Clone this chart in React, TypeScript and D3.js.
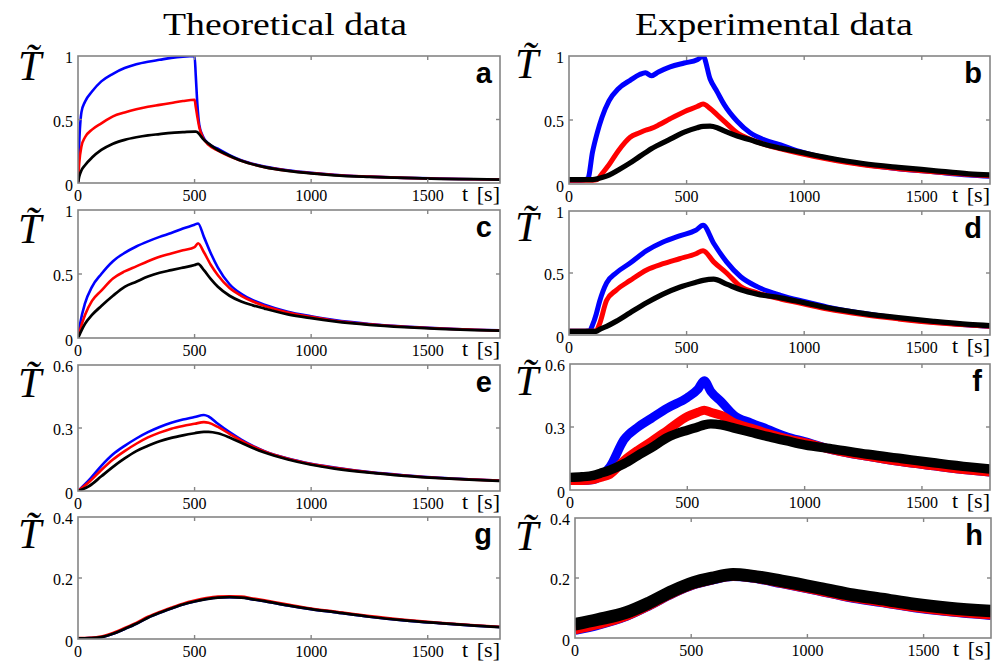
import React from 'react';
import * as d3 from 'd3';

// ---------- tick labels ----------
const xTicks = [0, 500, 1000, 1500];
const yTicks1 = [0, 0.5, 1];
const yTicks06 = [0, 0.3, 0.6];
const yTicks04 = [0, 0.2, 0.4];
const columnTitles = ['Theoretical data', 'Experimental data'];

// ---------- panel a (theoretical) ----------
const aT = [0, 5, 15, 30, 60, 100, 150, 200, 250, 300, 350, 400, 450, 500, 505, 512, 520, 535, 560, 600, 650, 700, 800, 900, 1000, 1100, 1250, 1400, 1550, 1700, 1810];
const aBlue = [0, 0.3, 0.56, 0.64, 0.72, 0.8, 0.86, 0.905, 0.935, 0.955, 0.97, 0.985, 0.995, 1.0, 0.85, 0.62, 0.46, 0.37, 0.31, 0.27, 0.22, 0.18, 0.13, 0.1, 0.08, 0.065, 0.05, 0.04, 0.035, 0.03, 0.028];
const aRed = [0, 0.15, 0.29, 0.36, 0.42, 0.47, 0.525, 0.555, 0.58, 0.6, 0.615, 0.63, 0.645, 0.655, 0.6, 0.52, 0.44, 0.36, 0.3, 0.255, 0.21, 0.175, 0.125, 0.097, 0.078, 0.063, 0.05, 0.04, 0.034, 0.03, 0.027];
const aBlack = [0, 0.05, 0.1, 0.14, 0.2, 0.26, 0.31, 0.34, 0.36, 0.375, 0.385, 0.395, 0.4, 0.405, 0.405, 0.4, 0.385, 0.35, 0.31, 0.26, 0.215, 0.175, 0.125, 0.095, 0.075, 0.06, 0.048, 0.04, 0.033, 0.03, 0.027];

// ---------- panel c (theoretical) ----------
const cT = [0, 10, 30, 60, 100, 150, 200, 250, 300, 350, 400, 450, 500, 515, 540, 570, 600, 650, 700, 750, 800, 900, 1000, 1100, 1250, 1400, 1550, 1700, 1810];
const cBlue = [0, 0.12, 0.27, 0.4, 0.5, 0.6, 0.665, 0.715, 0.755, 0.79, 0.82, 0.855, 0.885, 0.895, 0.79, 0.66, 0.55, 0.42, 0.345, 0.295, 0.26, 0.205, 0.17, 0.14, 0.11, 0.09, 0.075, 0.065, 0.06];
const cRed = [0, 0.07, 0.18, 0.29, 0.37, 0.465, 0.52, 0.56, 0.6, 0.635, 0.66, 0.685, 0.71, 0.74, 0.67, 0.57, 0.49, 0.39, 0.33, 0.285, 0.25, 0.2, 0.165, 0.135, 0.107, 0.088, 0.074, 0.064, 0.058];
const cBlack = [0, 0.04, 0.11, 0.18, 0.25, 0.33, 0.4, 0.44, 0.48, 0.51, 0.53, 0.55, 0.57, 0.58, 0.53, 0.46, 0.4, 0.33, 0.285, 0.255, 0.23, 0.185, 0.155, 0.13, 0.103, 0.085, 0.072, 0.062, 0.057];

// ---------- panel e (theoretical) ----------
const eT = [0, 50, 100, 150, 200, 250, 300, 350, 400, 450, 500, 540, 560, 600, 650, 700, 750, 800, 900, 1000, 1100, 1250, 1400, 1550, 1700, 1810];
const eBlue = [0, 0.055, 0.12, 0.175, 0.215, 0.25, 0.28, 0.305, 0.325, 0.34, 0.352, 0.362, 0.355, 0.32, 0.28, 0.245, 0.215, 0.19, 0.155, 0.13, 0.112, 0.09, 0.075, 0.063, 0.055, 0.05];
const eRed = [0, 0.045, 0.1, 0.15, 0.19, 0.225, 0.255, 0.278, 0.297, 0.31, 0.32, 0.328, 0.325, 0.305, 0.272, 0.24, 0.212, 0.188, 0.153, 0.128, 0.11, 0.089, 0.074, 0.062, 0.054, 0.049];
const eBlack = [0, 0.025, 0.07, 0.115, 0.155, 0.19, 0.215, 0.237, 0.253, 0.265, 0.275, 0.282, 0.282, 0.275, 0.255, 0.23, 0.205, 0.183, 0.15, 0.125, 0.107, 0.087, 0.072, 0.061, 0.053, 0.048];

// ---------- panel g (theoretical) ----------
const gT = [0, 50, 100, 150, 200, 250, 300, 350, 400, 450, 500, 550, 600, 650, 700, 750, 800, 900, 1000, 1100, 1250, 1400, 1550, 1700, 1810];
const gBlue = [0.002, 0.003, 0.006, 0.017, 0.033, 0.05, 0.07, 0.086, 0.1, 0.113, 0.123, 0.131, 0.136, 0.137, 0.136, 0.13, 0.124, 0.11, 0.098, 0.088, 0.073, 0.061, 0.052, 0.044, 0.039];
const gRed = [0.003, 0.004, 0.008, 0.02, 0.036, 0.053, 0.073, 0.089, 0.103, 0.116, 0.126, 0.134, 0.139, 0.14, 0.139, 0.133, 0.127, 0.113, 0.1, 0.09, 0.075, 0.063, 0.053, 0.045, 0.04];
const gBlack = [0.002, 0.003, 0.006, 0.017, 0.033, 0.05, 0.07, 0.086, 0.1, 0.113, 0.123, 0.131, 0.136, 0.137, 0.136, 0.13, 0.124, 0.11, 0.098, 0.088, 0.073, 0.061, 0.052, 0.044, 0.039];

// ---------- panel b (experimental) ----------
const bT = [0, 50, 80, 100, 120, 140, 170, 210, 260, 300, 325, 350, 380, 430, 490, 545, 570, 600, 630, 660, 715, 770, 830, 900, 980, 1100, 1250, 1400, 1550, 1700, 1790];
const bBlue = [0.03, 0.03, 0.04, 0.25, 0.4, 0.52, 0.65, 0.745, 0.81, 0.855, 0.87, 0.845, 0.875, 0.915, 0.945, 0.97, 1.0, 0.82, 0.72, 0.62, 0.49, 0.4, 0.345, 0.305, 0.255, 0.2, 0.155, 0.12, 0.095, 0.07, 0.06];
const bRed = [0.03, 0.03, 0.03, 0.03, 0.035, 0.08, 0.15, 0.26, 0.365, 0.4, 0.42, 0.435, 0.46, 0.51, 0.565, 0.605, 0.625, 0.59, 0.54, 0.49, 0.4, 0.35, 0.31, 0.275, 0.24, 0.195, 0.15, 0.12, 0.095, 0.075, 0.065];
const bBlack = [0.035, 0.035, 0.035, 0.035, 0.04, 0.05, 0.07, 0.11, 0.165, 0.215, 0.245, 0.275, 0.305, 0.35, 0.405, 0.44, 0.45, 0.452, 0.44, 0.415, 0.375, 0.345, 0.31, 0.28, 0.25, 0.205, 0.16, 0.13, 0.105, 0.08, 0.072];

// ---------- panel d (experimental) ----------
const dT = [0, 50, 88, 100, 116, 130, 160, 200, 260, 330, 400, 470, 540, 570, 615, 670, 730, 800, 900, 1000, 1100, 1250, 1400, 1550, 1700, 1790];
const dBlue = [0.03, 0.03, 0.035, 0.08, 0.17, 0.27, 0.42, 0.5, 0.58, 0.68, 0.75, 0.8, 0.845, 0.885, 0.74, 0.59, 0.47, 0.39, 0.32, 0.27, 0.225, 0.175, 0.135, 0.105, 0.08, 0.07];
const dRed = [0.03, 0.03, 0.03, 0.03, 0.035, 0.09, 0.28, 0.36, 0.44, 0.525, 0.575, 0.615, 0.655, 0.68, 0.59, 0.5, 0.39, 0.34, 0.29, 0.25, 0.21, 0.165, 0.13, 0.1, 0.08, 0.07];
const dBlack = [0.03, 0.03, 0.03, 0.03, 0.03, 0.045, 0.07, 0.11, 0.18, 0.26, 0.33, 0.385, 0.425, 0.44, 0.45, 0.41, 0.365, 0.33, 0.3, 0.26, 0.22, 0.175, 0.14, 0.11, 0.085, 0.075];

// ---------- panel f (experimental) ----------
const fT = [0, 50, 100, 130, 170, 230, 290, 345, 415, 500, 545, 572, 600, 645, 700, 770, 840, 920, 1000, 1125, 1270, 1410, 1550, 1700, 1790];
const fBlue = [0.045, 0.045, 0.05, 0.065, 0.11, 0.24, 0.3, 0.34, 0.39, 0.44, 0.48, 0.52, 0.47, 0.42, 0.355, 0.32, 0.29, 0.255, 0.23, 0.19, 0.16, 0.135, 0.115, 0.095, 0.085];
const fRed = [0.045, 0.045, 0.05, 0.06, 0.075, 0.14, 0.19, 0.23, 0.284, 0.35, 0.37, 0.38, 0.37, 0.355, 0.32, 0.295, 0.27, 0.245, 0.225, 0.19, 0.16, 0.135, 0.115, 0.095, 0.085];
const fBlack = [0.06, 0.063, 0.07, 0.08, 0.095, 0.125, 0.165, 0.2, 0.25, 0.285, 0.3, 0.31, 0.315, 0.31, 0.295, 0.275, 0.255, 0.235, 0.215, 0.195, 0.17, 0.15, 0.13, 0.11, 0.1];

// ---------- panel h (experimental) ----------
const hT = [0, 100, 220, 320, 420, 510, 590, 680, 760, 890, 1040, 1180, 1320, 1460, 1610, 1790];
const hBlue = [0.03, 0.048, 0.077, 0.113, 0.153, 0.182, 0.198, 0.21, 0.205, 0.186, 0.163, 0.14, 0.123, 0.106, 0.092, 0.08];
const hRed = [0.032, 0.05, 0.078, 0.114, 0.154, 0.183, 0.199, 0.211, 0.206, 0.187, 0.164, 0.141, 0.124, 0.107, 0.093, 0.082];
const hBlack = [0.046, 0.062, 0.085, 0.118, 0.157, 0.185, 0.2, 0.212, 0.207, 0.19, 0.168, 0.146, 0.13, 0.113, 0.1, 0.09];

const panels = [
  { id: 'a', box: [78, 56, 500, 183], xMax: 1810, yMax: 1, yTicks: yTicks1, t: aT, blue: aBlue, red: aRed, black: aBlack, sw: 2.6, tLab: [18, 80] },
  { id: 'b', box: [569, 56, 990, 184], xMax: 1790, yMax: 1, yTicks: yTicks1, t: bT, blue: bBlue, red: bRed, black: bBlack, sw: 5, tLab: [515, 78] },
  { id: 'c', box: [78, 210, 500, 338], xMax: 1810, yMax: 1, yTicks: yTicks1, t: cT, blue: cBlue, red: cRed, black: cBlack, sw: 2.6, tLab: [18, 243] },
  { id: 'd', box: [569, 211, 990, 335], xMax: 1790, yMax: 1, yTicks: yTicks1, t: dT, blue: dBlue, red: dRed, black: dBlack, sw: 5, tLab: [515, 241] },
  { id: 'e', box: [78, 365, 500, 491], xMax: 1810, yMax: 0.6, yTicks: yTicks06, t: eT, blue: eBlue, red: eRed, black: eBlack, sw: 2.6, tLab: [18, 397] },
  { id: 'f', box: [570, 364, 990, 490], xMax: 1790, yMax: 0.6, yTicks: yTicks06, t: fT, blue: fBlue, red: fRed, black: fBlack, sw: 9, tLab: [515, 395] },
  { id: 'g', box: [78, 517, 500, 639], xMax: 1810, yMax: 0.4, yTicks: yTicks04, t: gT, blue: gBlue, red: gRed, black: gBlack, sw: 2.6, tLab: [18, 548] },
  { id: 'h', box: [575, 518, 991, 638], xMax: 1790, yMax: 0.4, yTicks: yTicks04, t: hT, blue: hBlue, red: hRed, black: hBlack, sw: 12, tLab: [515, 550] },
];

const serif = '"Liberation Serif", "Times New Roman", serif';
const sans = '"Liberation Sans", Arial, sans-serif';
const frame = '#858585';

function Panel({ p }: { p: any }) {
  const [x0, y0, x1, y1] = p.box;
  const x = d3.scaleLinear().domain([0, p.xMax]).range([x0, x1]);
  const y = d3.scaleLinear().domain([0, p.yMax]).range([y1, y0]);
  const line = d3
    .line<number>()
    .x((_, i) => x(p.t[i]))
    .y((v) => y(v))
    .curve(d3.curveMonotoneX);
  const clipId = `clip-${p.id}`;
  const series = [
    { vals: p.blue, color: '#0000ff', w: p.sw },
    { vals: p.red, color: '#ff0000', w: p.sw },
    { vals: p.black, color: '#000000', w: p.sw * 1.05 },
  ];
  const fmt = (v: number) => (v === 0 ? '0' : String(v));
  const [tx, ty] = p.tLab;
  return (
    <g>
      <defs>
        <clipPath id={clipId}>
          <rect x={x0} y={y0} width={x1 - x0} height={y1 - y0} />
        </clipPath>
      </defs>
      <g clipPath={`url(#${clipId})`}>
        {series.map((s, i) => (
          <path key={i} d={line(s.vals) || ''} fill="none" stroke={s.color} strokeWidth={s.w} strokeLinejoin="round" />
        ))}
      </g>
      <rect x={x0} y={y0} width={x1 - x0} height={y1 - y0} fill="none" stroke={frame} strokeWidth={1.6} />
      {xTicks.slice(1).map((v) => (
        <g key={v}>
          <line x1={x(v)} x2={x(v)} y1={y0} y2={y0 + 4} stroke={frame} strokeWidth={1.4} />
          <line x1={x(v)} x2={x(v)} y1={y1} y2={y1 - 4} stroke={frame} strokeWidth={1.4} />
        </g>
      ))}
      {p.yTicks.slice(1, -1).map((v: number) => (
        <g key={v}>
          <line x1={x0} x2={x0 + 4} y1={y(v)} y2={y(v)} stroke={frame} strokeWidth={1.4} />
          <line x1={x1} x2={x1 - 4} y1={y(v)} y2={y(v)} stroke={frame} strokeWidth={1.4} />
        </g>
      ))}
      {xTicks.map((v) => (
        <text key={v} x={x(v)} y={y1 + 18} textAnchor="middle" fontFamily={serif} fontSize={16}>
          {String(v)}
        </text>
      ))}
      {p.yTicks.map((v: number) => (
        <text key={v} x={x0 - 5} y={y(v) + (v === 0 ? 8 : 7)} textAnchor="end" fontFamily={serif} fontSize={16}>
          {fmt(v)}
        </text>
      ))}
      <text x={x1 - 38} y={y1 + 18} fontFamily={serif} fontSize={22}>t</text>
      <text x={x1} y={y1 + 18} textAnchor="end" fontFamily={serif} fontSize={22}>[s]</text>
      <text x={x1 - 8} y={y0 + 27} textAnchor="end" fontFamily={sans} fontWeight="bold" fontSize={29}>
        {p.id}
      </text>
      <text x={tx} y={ty} fontFamily={serif} fontStyle="italic" fontSize={42}>{'T\u0303'}</text>
    </g>
  );
}

export default function App() {
  return (
    <svg
      width={998}
      height={665}
      style={{ position: 'absolute', left: 0, top: 0, background: '#fff' }}
    >
      <rect x={0} y={0} width={998} height={665} fill="#fff" />
      <text x={285} y={35} textAnchor="middle" fontFamily={serif} fontSize={31} textLength={244} lengthAdjust="spacingAndGlyphs">
        {columnTitles[0]}
      </text>
      <text x={774} y={35} textAnchor="middle" fontFamily={serif} fontSize={31} textLength={278} lengthAdjust="spacingAndGlyphs">
        {columnTitles[1]}
      </text>
      {panels.map((p) => (
        <Panel key={p.id} p={p} />
      ))}
    </svg>
  );
}
